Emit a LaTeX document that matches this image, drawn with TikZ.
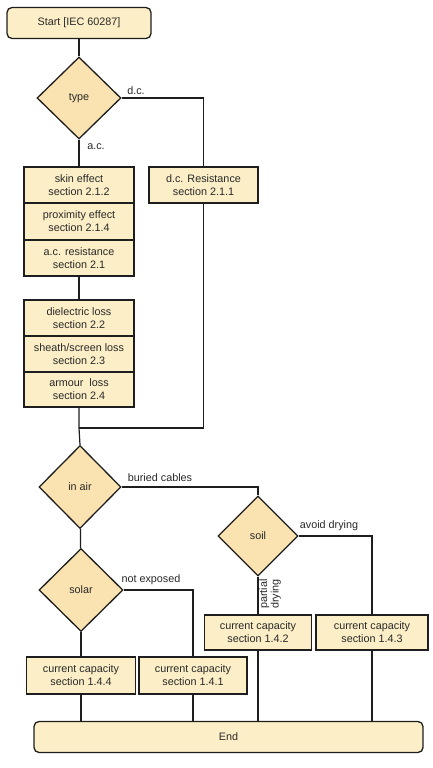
\documentclass[tikz,border=0pt]{standalone}
\usepackage{fontspec}
\setmainfont{Liberation Sans}
\usetikzlibrary{shapes.geometric}
\definecolor{boxfill}{RGB}{252,239,199}
\definecolor{diafill}{RGB}{250,227,176}
\definecolor{edge}{RGB}{30,30,30}
\begin{document}
\begin{tikzpicture}[x=1pt,y=-1pt,
  every node/.style={font=\fontsize{10.8}{13}\selectfont, text={rgb,255:red,40;green,40;blue,40}},
  stepbox/.style={draw=edge, line width=1.3pt, fill=boxfill, align=center, inner sep=0pt, minimum height=36pt},
  termbox/.style={draw=edge, line width=1.3pt, fill=boxfill, rounded corners=5pt, align=center, inner sep=0pt, minimum height=31pt},
  decide/.style={diamond, draw=edge, line width=1.3pt, fill=diafill, align=center, inner sep=0pt},
  conn/.style={draw=edge, line width=1.2pt},
  lbl/.style={inner sep=1pt}]
\useasboundingbox (0,0) rectangle (433,768);
% nodes
\node[termbox, minimum width=144pt] (start) at (79,23) {Start [IEC 60287]};
\node[decide, minimum width=84pt, minimum height=82pt] (type) at (79,98) {type};
\node[stepbox, minimum width=109pt] (dcres) at (203.5,185) {d.c. Resistance\\section 2.1.1};
\node[stepbox, minimum width=110pt] (skin) at (79,185) {skin effect\\section 2.1.2};
\node[stepbox, minimum width=110pt, minimum height=37pt] (prox) at (79,221.5) {proximity effect\\section 2.1.4};
\node[stepbox, minimum width=110pt] (acres) at (79,258) {a.c. resistance\\section 2.1};
\node[stepbox, minimum width=110pt] (diel) at (79,318) {dielectric loss\\section 2.2};
\node[stepbox, minimum width=110pt] (sheath) at (79,354) {sheath/screen loss\\section 2.3};
\node[stepbox, minimum width=110pt, minimum height=35pt] (armour) at (79,389.5) {armour\ \ loss\\section 2.4};
\coordinate (jn) at (79,428);
\node[decide, minimum width=82pt, minimum height=83pt] (inair) at (80,487) {in air};
\node[decide, minimum width=80pt, minimum height=80pt] (soil) at (258,536) {soil};
\node[decide, minimum width=84pt, minimum height=83pt] (solar) at (81,590) {solar};
\node[stepbox, minimum width=107pt, minimum height=35pt] (cc142) at (258,632.5) {current capacity\\section 1.4.2};
\node[stepbox, minimum width=112pt, minimum height=35pt] (cc143) at (372,632.5) {current capacity\\section 1.4.3};
\node[stepbox, minimum width=109pt, minimum height=37pt] (cc144) at (81,675.5) {current capacity\\section 1.4.4};
\node[stepbox, minimum width=108pt, minimum height=37pt] (cc141) at (193,675.5) {current capacity\\section 1.4.1};
\node[termbox, minimum width=389pt] (end) at (228.5,737) {End};
% connectors
\draw[conn] (start) -- (type);
\draw[conn] (type) -- (skin);
\draw[conn] (type.east) -| (dcres.north);
\draw[conn] (acres) -- (diel);
\draw[conn] (armour.south) -- (jn) -- (inair.north);
\draw[conn] (dcres.south) |- (jn);
\draw[conn] (inair.east) -| (soil.north);
\draw[conn] (inair) -- (solar);
\draw[conn] (soil) -- (cc142);
\draw[conn] (soil.east) -| (cc143.north);
\draw[conn] (solar) -- (cc144);
\draw[conn] (solar.east) -| (cc141.north);
\draw[conn] (cc144.south) -- (cc144.south |- end.north);
\draw[conn] (cc141.south) -- (cc141.south |- end.north);
\draw[conn] (cc142.south) -- (cc142.south |- end.north);
\draw[conn] (cc143.south) -- (cc143.south |- end.north);
% labels
\node[lbl] (ldc) at (136,91) {d.c.};
\node[lbl] (lac) at (96,147) {a.c.};
\node[lbl] (lbur) at (160,478) {buried cables};
\node[lbl] (lavoid) at (329,526) {avoid drying};
\node[lbl] (lnot) at (151,580) {not exposed};
\node[lbl, rotate=90, align=center, font=\fontsize{10.8}{11.5}\selectfont] (lpart) at (270,594) {partial\\drying};
\end{tikzpicture}
\end{document}
